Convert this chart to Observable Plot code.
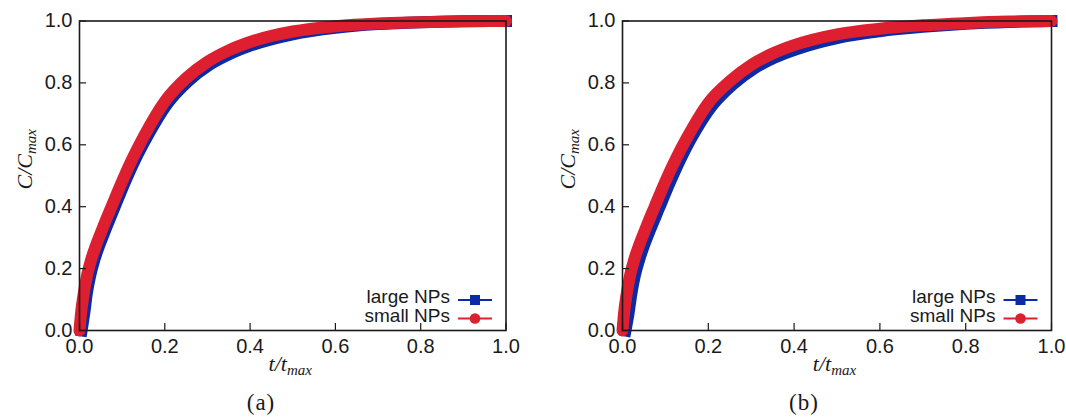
<!DOCTYPE html>
<html><head><meta charset="utf-8">
<script src="https://cdn.jsdelivr.net/npm/d3@7"></script>
<script src="https://cdn.jsdelivr.net/npm/@observablehq/plot@0.6"></script>
<style>
body{margin:0;background:#fff;}
#wrap{position:relative;width:1066px;height:417px;overflow:hidden;}
.panel{position:absolute;top:0;}
</style></head><body><div id="wrap"></div>
<script>
// Panel (a)
const tRedA  = [0, 0.004, 0.01, 0.018, 0.028, 0.04, 0.055, 0.075, 0.1, 0.125, 0.15, 0.2, 0.25, 0.3, 0.35, 0.4, 0.5, 0.6, 0.7, 0.8, 0.9, 1.0];
const cRedA  = [0, 0.06, 0.12, 0.18, 0.232, 0.28, 0.333, 0.40, 0.482, 0.558, 0.625, 0.74, 0.815, 0.868, 0.905, 0.932, 0.966, 0.983, 0.992, 0.996, 0.999, 1.0];
const tBlueA = [0.005, 0.0115, 0.017, 0.025, 0.035, 0.047, 0.062, 0.0815, 0.106, 0.131, 0.156, 0.206, 0.255, 0.304, 0.353, 0.402, 0.5, 0.6, 0.7, 0.8, 0.9, 1.0];
const cBlueA = [0, 0.059, 0.118, 0.177, 0.229, 0.277, 0.33, 0.396, 0.478, 0.554, 0.620, 0.733, 0.806, 0.858, 0.894, 0.921, 0.957, 0.978, 0.990, 0.996, 0.999, 1.0];
// Panel (b)
const tRedB  = [0, 0.004, 0.01, 0.018, 0.028, 0.04, 0.055, 0.075, 0.1, 0.125, 0.15, 0.2, 0.25, 0.3, 0.35, 0.4, 0.5, 0.6, 0.7, 0.8, 0.9, 1.0];
const cRedB  = [0, 0.06, 0.12, 0.18, 0.232, 0.28, 0.333, 0.40, 0.482, 0.556, 0.622, 0.735, 0.805, 0.858, 0.895, 0.922, 0.957, 0.975, 0.986, 0.993, 0.998, 1.0];
const tBlueB = [0.007, 0.0145, 0.0205, 0.0285, 0.0385, 0.05, 0.065, 0.0848, 0.1096, 0.1345, 0.159, 0.2085, 0.257, 0.306, 0.3545, 0.403, 0.5, 0.6, 0.7, 0.8, 0.9, 1.0];
const cBlueB = [0, 0.059, 0.117, 0.176, 0.227, 0.275, 0.328, 0.394, 0.476, 0.552, 0.618, 0.726, 0.795, 0.846, 0.882, 0.908, 0.945, 0.967, 0.981, 0.991, 0.997, 1.0];

const xTicks = [0, 0.2, 0.4, 0.6, 0.8, 1.0];
const yTicks = [0, 0.2, 0.4, 0.6, 0.8, 1.0];
const seriesNames = ["large NPs", "small NPs"];
const panelTags = ["(a)", "(b)"];

const BLUE = "#0a2aa6", RED = "#dd1f30", INK = "#1a1a1a";
const H = 417, MT = 20.5, MB = 87;

function zip(t, c) { return t.map((v, i) => ({t: v, c: c[i]})); }

function panel({left, width, marginLeft, marginRight, red, blue, tag}) {
  const plotW = width - marginLeft - marginRight;
  const plotH = H - MT - MB;
  const svg = Plot.plot({
    width, height: H,
    marginLeft, marginRight, marginTop: MT, marginBottom: MB,
    style: {fontFamily: "'Liberation Sans', Arial, sans-serif", fontSize: "20px", color: INK, background: "transparent", overflow: "visible"},
    x: {domain: [0, 1]},
    y: {domain: [0, 1]},
    marks: [
      Plot.line(blue, {x: "t", y: "c", stroke: BLUE, strokeWidth: 12, curve: "monotone-x", strokeLinecap: "square", strokeLinejoin: "round"}),
      Plot.line(red, {x: "t", y: "c", stroke: RED, strokeWidth: 12, curve: "monotone-x", strokeLinecap: "round", strokeLinejoin: "round"}),
      Plot.frame({stroke: INK, strokeWidth: 1.6}),
      Plot.tickX(xTicks, {x: d => d, insetTop: plotH - 7, stroke: INK, strokeWidth: 1.2}),
      Plot.tickY(yTicks, {y: d => d, insetRight: plotW - 7, stroke: INK, strokeWidth: 1.2}),
      Plot.axisX({ticks: xTicks, tickSize: 0, tickPadding: 8, tickFormat: d => d.toFixed(1), label: null, fontSize: 20}),
      Plot.axisY({ticks: yTicks, tickSize: 0, tickPadding: 7, tickFormat: d => d.toFixed(1), label: null, fontSize: 20})
    ]
  });
  const s = d3.select(svg);
  const R = width - marginRight;
  // y label
  const yl = s.append("text")
    .attr("transform", `translate(${marginLeft - 47.5},${MT + plotH / 2 - 16}) rotate(-90)`)
    .attr("text-anchor", "middle")
    .attr("font-family", "'Liberation Serif', 'DejaVu Serif', serif")
    .attr("font-style", "italic").attr("font-size", 22).attr("fill", INK);
  yl.append("tspan").text("C/C");
  yl.append("tspan").attr("font-size", 15).attr("dy", 4).text("max");
  // x label
  const xl = s.append("text")
    .attr("x", marginLeft + plotW / 2 - 2).attr("y", 371)
    .attr("text-anchor", "middle")
    .attr("font-family", "'Liberation Serif', 'DejaVu Serif', serif")
    .attr("font-style", "italic").attr("font-size", 22).attr("fill", INK);
  xl.append("tspan").text("t/t");
  xl.append("tspan").attr("font-size", 15).attr("dy", 4).text("max");
  // panel tag
  s.append("text")
    .attr("x", marginLeft + 182).attr("y", 410)
    .attr("text-anchor", "middle")
    .attr("font-family", "'Liberation Serif', 'DejaVu Serif', serif")
    .attr("font-size", 23).attr("letter-spacing", 1).attr("fill", INK)
    .text(tag);
  // legend
  const leg = s.append("g");
  const rows = [
    {name: seriesNames[0], color: BLUE, y: 300, shape: "square"},
    {name: seriesNames[1], color: RED, y: 318.5, shape: "circle"}
  ];
  for (const r of rows) {
    leg.append("text").attr("x", R - 55.5).attr("y", r.y + 3)
      .attr("text-anchor", "end").attr("font-size", 19).attr("fill", INK)
      .attr("font-family", "'Liberation Sans', Arial, sans-serif").text(r.name);
    leg.append("line").attr("x1", R - 47.5).attr("x2", R - 13.5)
      .attr("y1", r.y).attr("y2", r.y).attr("stroke", r.color).attr("stroke-width", 2);
    if (r.shape === "square") {
      leg.append("rect").attr("x", R - 30.5 - 5).attr("y", r.y - 5).attr("width", 10).attr("height", 10).attr("fill", r.color);
    } else {
      leg.append("circle").attr("cx", R - 30.5).attr("cy", r.y).attr("r", 5.3).attr("fill", r.color);
    }
  }
  const div = document.createElement("div");
  div.className = "panel";
  div.style.left = left + "px";
  div.appendChild(svg);
  document.getElementById("wrap").appendChild(div);
}

panel({left: 0, width: 533, marginLeft: 79, marginRight: 27.5, red: zip(tRedA, cRedA), blue: zip(tBlueA, cBlueA), tag: panelTags[0]});
panel({left: 533, width: 533, marginLeft: 89, marginRight: 15, red: zip(tRedB, cRedB), blue: zip(tBlueB, cBlueB), tag: panelTags[1]});
</script>
</body></html>
